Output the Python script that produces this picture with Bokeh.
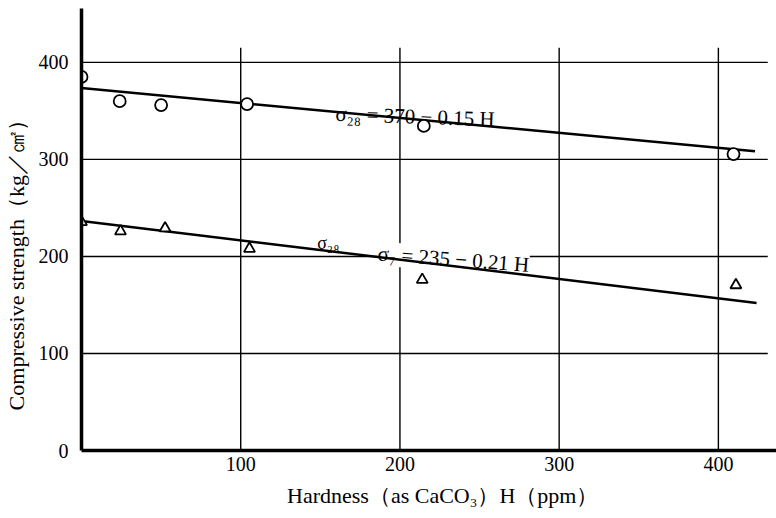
from bokeh.plotting import figure
from bokeh.models import Range1d, FixedTicker
from bokeh.core.properties import value
from bokeh.embed import file_html
from bokeh.resources import INLINE

# ---- data ----
hardness_28 = [0, 24, 50, 104, 215, 409.5]
strength_28 = [385, 360, 356, 357, 334.5, 305.5]
hardness_7 = [0, 24.5, 52.5, 105.5, 214, 411]
strength_7 = [235.5, 226, 229, 208, 176, 170.5]

fit28_x = [0, 423]
fit28_y = [373.5, 308.5]
fit7_x = [0, 424]
fit7_y = [236.5, 152]

x_ticks = [100, 200, 300, 400]
y_ticks = [0, 100, 200, 300, 400]
grid_top = 415
grid_right = 431

FONT = "Liberation Serif"
NB = "\u00a0"

p = figure(width=776, height=518, output_backend="svg", toolbar_location=None,
           x_range=Range1d(0, 436.5), y_range=Range1d(0, 455.5),
           min_border_left=81, min_border_right=0, min_border_top=8,
           min_border_bottom=68)
p.frame_height = 442
p.frame_width = 695
p.outline_line_color = None
p.xgrid.visible = False
p.ygrid.visible = False

# grid drawn as segments (vertical lines stop below the top of the y axis)
p.segment(x0=x_ticks, y0=[0] * len(x_ticks), x1=x_ticks, y1=[grid_top] * len(x_ticks),
          line_color="black", line_width=1.4)
p.segment(x0=[0] * 4, y0=y_ticks[1:], x1=[grid_right] * 4, y1=y_ticks[1:],
          line_color="black", line_width=1.4)

# annotations as text glyphs (white background hides the grid behind them)
p.text(x=[159.5], y=[347], text=["σ₂₈ = 370 − 0.15 H"], angle=-0.035,
       text_font=value(FONT), text_font_size="21px", text_color="black",
       text_baseline="alphabetic", text_align="left")
p.text(x=[186], y=[203], text=["σ₇ = 235 − 0.21 H"], angle=-0.075,
       text_font=value(FONT), text_font_size="21px", text_color="black",
       text_baseline="alphabetic", text_align="left",
       background_fill_color="white", padding=0)
p.text(x=[148], y=[214], text=["σ₂₈"],
       text_font=value(FONT), text_font_size="18px", text_color="black",
       text_baseline="alphabetic", text_align="left")

# fit lines
p.line(fit28_x, fit28_y, line_color="black", line_width=2.5)
p.line(fit7_x, fit7_y, line_color="black", line_width=2.5)

# points
p.scatter(hardness_28, strength_28, marker="circle", size=12, fill_color="white",
          line_color="black", line_width=1.8)
p.scatter(hardness_7, strength_7, marker="triangle", size=11, fill_color="white",
          line_color="black", line_width=1.8)

for ax, ticks in ((p.xaxis, x_ticks), (p.yaxis, y_ticks)):
    ax.ticker = FixedTicker(ticks=ticks)
    ax.axis_line_width = 3.5
    ax.axis_line_color = "black"
    ax.major_tick_line_color = None
    ax.minor_tick_line_color = None
    ax.major_tick_out = 0
    ax.major_tick_in = 0
    ax.major_label_text_font = FONT
    ax.major_label_text_font_size = "20px"
    ax.major_label_text_color = "black"
    ax.axis_label_text_font = FONT
    ax.axis_label_text_font_style = "normal"
    ax.axis_label_text_color = "black"
p.xaxis.major_label_standoff = 6
p.yaxis.major_label_standoff = 13

p.yaxis.axis_label = "Compressive strength（kg／㎠）" + NB * 11
p.yaxis.axis_label_text_font_size = "22px"
p.yaxis.axis_label_standoff = 7
p.xaxis.axis_label = NB * 5 + "Hardness（as CaCO₃）H（ppm）"
p.xaxis.axis_label_text_font_size = "22px"
p.xaxis.axis_label_standoff = 9

open("out.html", "w").write(file_html(p, INLINE))
